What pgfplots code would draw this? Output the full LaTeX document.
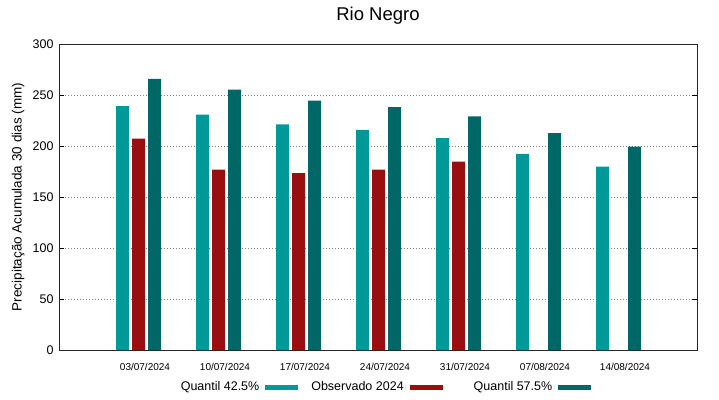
\documentclass[border=0pt]{standalone}
\usepackage{fontspec}
\setmainfont{Liberation Sans}
\usepackage{pgfplots}
\pgfplotsset{compat=1.18}
\definecolor{qlow}{HTML}{009999}
\definecolor{obs}{HTML}{990F0F}
\definecolor{qhigh}{HTML}{006666}
\begin{document}
\begin{tikzpicture}[x=1bp,y=1bp]
\useasboundingbox (0,0) rectangle (719,399);
\node[font=\fontsize{18.5bp}{21bp}\selectfont] at (378,383) {Rio Negro};
\begin{axis}[
  at={(59bp,49bp)}, anchor=south west,
  scale only axis, width=638bp, height=306bp,
  xmin=-0.99375, xmax=6.98125,
  ymin=0, ymax=300,
  ytick={0,50,100,150,200,250,300},
  xtick={0.081,1.081,2.081,3.081,4.081,5.081,6.081},
  xticklabels={03/07/2024,10/07/2024,17/07/2024,24/07/2024,31/07/2024,07/08/2024,14/08/2024},
  x tick style={draw=none},
  ytick pos=both, tick align=inside, major tick length=5bp,
  y tick style={black, line width=0.6bp},
  axis line style={black!85, line width=0.8bp},
  ymajorgrids,
  major grid style={gray, line width=0.6bp, dash pattern=on 1bp off 2bp},
  /pgf/number format/assume math mode=true,
  yticklabel style={font=\fontsize{12.5bp}{14bp}\selectfont, xshift=-2bp},
  xticklabel style={font=\fontsize{10bp}{12bp}\selectfont, yshift=-10bp},
  ylabel={Precipitação Acumulada 30 dias (mm)},
  ylabel style={font=\fontsize{13.5bp}{15bp}\selectfont, at={(axis description cs:-0.064,0.5)}, anchor=center},
  legend columns=3,
  legend style={at={(axis description cs:0.511,-0.121)}, anchor=center, draw=none, fill=none,
    font=\fontsize{12.5bp}{14bp}\selectfont, legend plot pos=right,
    /tikz/column 2/.style={column sep=11bp},
    /tikz/column 4/.style={column sep=29bp},
    legend cell align=left},
  legend image code/.code={\path (0bp,-2.5bp) -- (0bp,2.5bp); \fill (4bp,-2.5bp) rectangle (37bp,2.5bp);},
]
\addplot[ybar, bar width=13bp, bar shift=-16bp, fill=qlow, draw=none]
  coordinates {(0,239.2) (1,230.7) (2,221.2) (3,215.7) (4,207.8) (5,192.2) (6,179.7)};
\addlegendentry{Quantil 42.5\%}
\addplot[ybar, bar width=13bp, bar shift=0bp, fill=obs, draw=none]
  coordinates {(0,207.2) (1,176.8) (2,173.5) (3,176.8) (4,184.6)};
\addlegendentry{Observado 2024}
\addplot[ybar, bar width=13bp, bar shift=16bp, fill=qhigh, draw=none]
  coordinates {(0,265.7) (1,255.2) (2,244.4) (3,238.2) (4,229.0) (5,212.7) (6,199.3)};
\addlegendentry{Quantil 57.5\%}
\end{axis}
\end{tikzpicture}
\end{document}
